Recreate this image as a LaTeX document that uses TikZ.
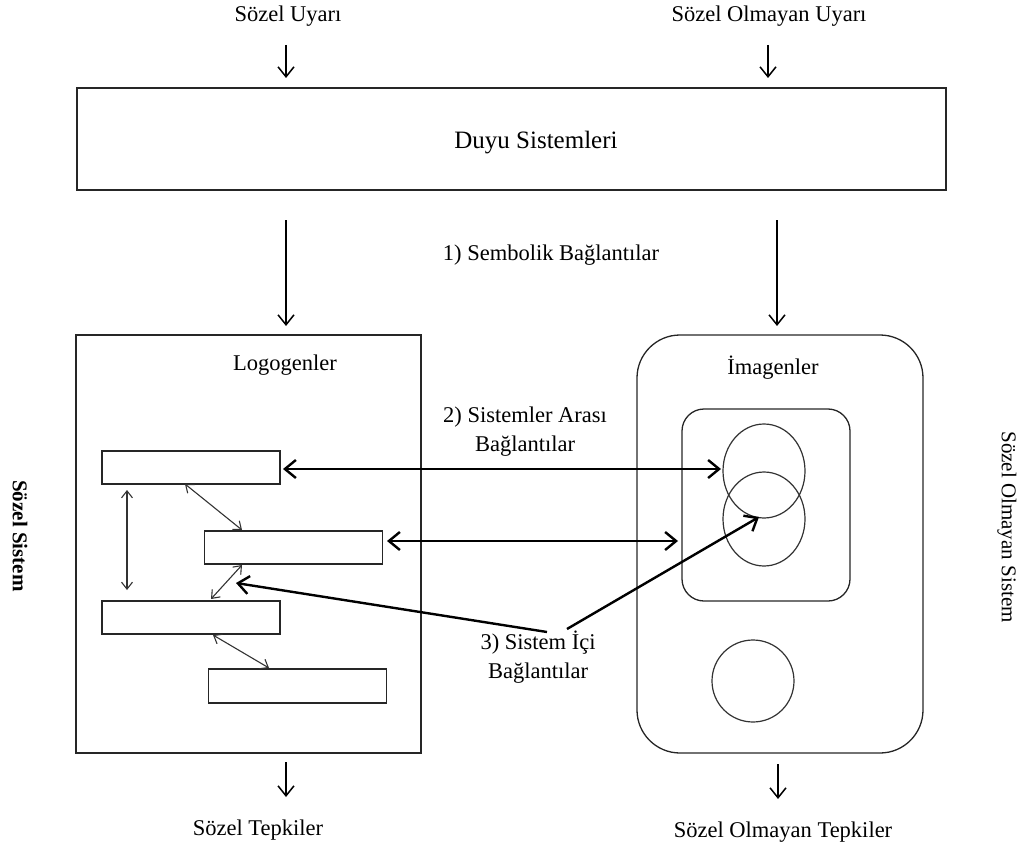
\documentclass[tikz,border=0pt]{standalone}
\usepackage{fontspec}
\setmainfont{Liberation Serif}
\usetikzlibrary{arrows.meta,shapes.geometric}
\begin{document}
\begin{tikzpicture}[x=1pt,y=-1pt,
  lbl/.style={font=\fontsize{22.5}{29}\selectfont, inner sep=0pt, align=center},
  frame/.style={draw=black!85, line width=1.3pt, inner sep=0pt},
  bar/.style={draw=black!85, line width=1.3pt, minimum width=178pt, minimum height=33pt, inner sep=0pt},
  ring/.style={draw=black!80, line width=1.2pt, ellipse, minimum width=82pt, minimum height=94pt, inner sep=0pt},
  feed/.style={line width=1.5pt, -{Straight Barb[length=10pt,width=16pt]}},
  link/.style={draw=black!80, line width=1.1pt, {Straight Barb[length=7pt,width=11pt]}-{Straight Barb[length=7pt,width=11pt]}},
  heavy/.style={line width=2.4pt, -{Straight Barb[length=11pt,width=18pt]}},
  heavyboth/.style={line width=2.4pt, {Straight Barb[length=11pt,width=18pt]}-{Straight Barb[length=11pt,width=18pt]}},
]
\useasboundingbox (0,0) rectangle (1020,856);

% --- inputs and the sensory stage
\node[lbl] (su) at (288,16) {Sözel Uyarı};
\node[lbl] (sou) at (769,16) {Sözel Olmayan Uyarı};
\node[frame, minimum width=869pt, minimum height=102pt] (duyu) at (511.5,139) {};
\node[lbl, font=\fontsize{25}{30}\selectfont] (duyut) at (536,143) {Duyu Sistemleri};
\coordinate (su1) at (286,45);  \coordinate (su2) at (286,78);
\coordinate (so1) at (768,45);  \coordinate (so2) at (768,78);
\draw[feed] (su1) -- (su2);
\draw[feed] (so1) -- (so2);

% --- the two subsystems
\node[frame, minimum width=345pt, minimum height=418pt] (logo) at (248.5,544) {};
\node[frame, rounded corners=43pt, minimum width=286pt, minimum height=418pt] (imag) at (780,544) {};
\node[lbl] (logot) at (285,365) {Logogenler};
\node[lbl] (imagt) at (773,368) {İmagenler};

\coordinate (d1) at (286,220); \coordinate (d2) at (286,326);
\coordinate (d3) at (777,220); \coordinate (d4) at (777,326);
\draw[feed] (d1) -- (d2);
\draw[feed] (d3) -- (d4);
\node[lbl] (sem) at (551,255) {1) Sembolik Bağlantılar};

% --- logogen units
\node[bar] (r1) at (191,467.5) {};
\node[bar] (r2) at (293.5,547.5) {};
\node[bar] (r3) at (191,617.5) {};
\node[bar, minimum height=34pt] (r4) at (297.5,686) {};

\coordinate (v1) at (127,490); \coordinate (v2) at (127,590);
\draw[link] (v1) -- (v2);
\coordinate (a1) at (185,484); \coordinate (a2) at (242,530);
\draw[link] (a1) -- (a2);
\coordinate (b1) at (242,565); \coordinate (b2) at (211,599);
\draw[link] (b1) -- (b2);
\coordinate (c1) at (213,635); \coordinate (c2) at (269,668);
\draw[link] (c1) -- (c2);

% --- imagen units
\node[frame, rounded corners=22pt, minimum width=168pt, minimum height=192pt] (inner) at (766,505) {};
\node[ring] (e1) at (764,471) {};
\node[ring] (e2) at (764,519) {};
\node[ring, circle, minimum size=82pt] (e3) at (753,681) {};

% --- referential connections
\node[lbl] (arasi) at (525,432) {2) Sistemler Arası\\Bağlantılar};
\coordinate (h1) at (283,469); \coordinate (h2) at (721,469);
\draw[heavyboth] (h1) -- (h2);
\coordinate (g1) at (387,541); \coordinate (g2) at (678,541);
\draw[heavyboth] (g1) -- (g2);

% --- associative connections
\node[lbl] (ici) at (538,657) {3) Sistem İçi\\Bağlantılar};
\coordinate (t1) at (547,632); \coordinate (t2) at (236,583);
\coordinate (t3) at (567,629); \coordinate (t4) at (759,517);
\draw[heavy] (t1) -- (t2);
\draw[heavy] (t3) -- (t4);

% --- outputs
\coordinate (o1) at (286,762); \coordinate (o2) at (286,797);
\coordinate (o3) at (778,764); \coordinate (o4) at (778,799);
\draw[feed] (o1) -- (o2);
\draw[feed] (o3) -- (o4);
\node[lbl] (st) at (258,830) {Sözel Tepkiler};
\node[lbl] (sot) at (783,832) {Sözel Olmayan Tepkiler};

% --- system names
\node[lbl, rotate=-90, font=\bfseries\fontsize{21}{26}\selectfont] (ss) at (20,536) {Sözel Sistem};
\node[lbl, rotate=-90, font=\fontsize{21}{26}\selectfont] (sos) at (1007,527) {Sözel Olmayan Sistem};
\end{tikzpicture}
\end{document}
